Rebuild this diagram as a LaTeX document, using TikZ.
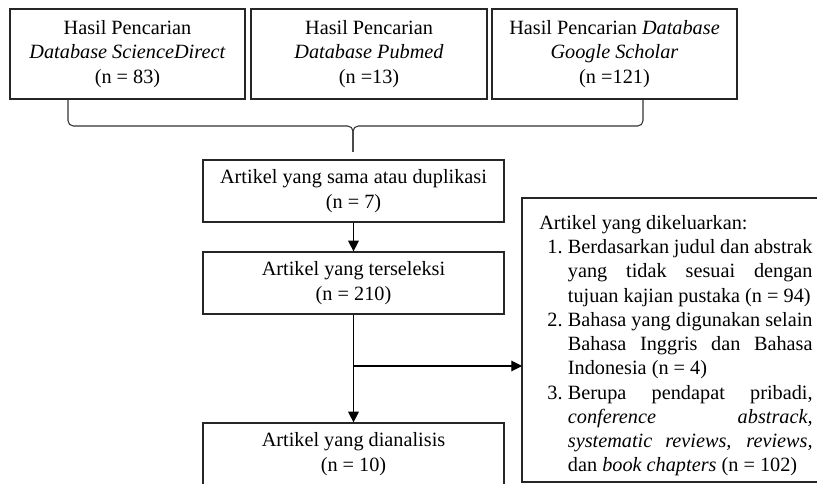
\documentclass[tikz,border=0pt]{standalone}
\usepackage{fontspec}
\setmainfont{Liberation Serif}
\usepackage{enumitem}
\usetikzlibrary{arrows.meta,calc}
\tikzset{
  boxline/.style={draw=black!85,line width=0.9pt},
  srcbox/.style={boxline,align=center,minimum height=67.5pt,inner sep=0pt},
  stagebox/.style={boxline,align=center,minimum width=225.75pt,minimum height=46.5pt,inner sep=0pt},
  brace/.style={draw=black!80,line width=0.8pt,rounded corners=4pt},
  arr/.style={draw=black,line width=0.8pt,-{Triangle[width=8pt,length=8pt]}}
}

\begin{document}
\begin{tikzpicture}[x=0.75pt,y=-0.75pt,font=\fontsize{15.2}{18.2}\selectfont]
  \clip (0,0) rectangle (817,484);
  \useasboundingbox (0,0) rectangle (817,484);
  \fill[white] (0,0) rectangle (817,484);

  % Sumber pencarian
  \node[srcbox,minimum width=176.25pt] (sd) at (127.5,54) {Hasil Pencarian\\\textit{Database ScienceDirect}\\(n = 83)};
  \node[srcbox,minimum width=177pt] (pm) at (369,54) {Hasil Pencarian\\\textit{Database Pubmed}\\(n =13)};
  \node[srcbox,minimum width=183.75pt] (gs) at (614.5,54) {Hasil Pencarian \textit{Database}\\\textit{Google Scholar}\\(n =121)};

  % Kurung penggabung
  \coordinate (bl) at (68,100);
  \coordinate (br) at (643,100);
  \coordinate (bm) at (353,126);
  \coordinate (tip) at (353,152);
  \draw[brace] (bl) -- (bl |- bm) -- (bm) -- (tip);
  \draw[brace] (br) -- (br |- bm) -- (bm) -- (tip);

  % Tahapan seleksi
  \node[stagebox] (dup) at (353.5,191) {Artikel yang sama atau duplikasi\\(n = 7)};
  \node[stagebox] (sel) at (353.5,283) {Artikel yang terseleksi\\(n = 210)};
  \node[stagebox] (ana) at (353.5,454) {Artikel yang dianalisis\\(n = 10)};

  \draw[arr] (dup) -- (sel);
  \draw[arr] (sel) -- (ana);

  % Artikel yang dikeluarkan
  \draw[boxline] (522,198) rectangle (822,482);
  \coordinate (exw) at (522,366);
  \coordinate (split) at (sel.south |- exw);
  \draw[arr] (split) -- (exw);
  \node[anchor=north west,inner sep=0pt] (ex) at (539,215) {%
    \begin{minipage}{205pt}
      \hyphenpenalty=10000\exhyphenpenalty=10000
      \noindent Artikel yang dikeluarkan:
      \begin{enumerate}[label=\arabic*.,leftmargin=21.5pt,labelsep=4pt,
        itemsep=0pt,topsep=0pt,parsep=0pt,partopsep=0pt]
        \item Berdasarkan judul dan abstrak\linebreak yang tidak sesuai dengan\linebreak tujuan kajian pustaka (n = 94)
        \item Bahasa yang digunakan selain\linebreak Bahasa Inggris dan Bahasa\linebreak Indonesia (n = 4)
        \item Berupa pendapat pribadi,\linebreak \textit{conference abstrack,}\linebreak \textit{systematic reviews, reviews,}\linebreak dan \textit{book chapters} (n = 102)
      \end{enumerate}
    \end{minipage}};
\end{tikzpicture}
\end{document}
